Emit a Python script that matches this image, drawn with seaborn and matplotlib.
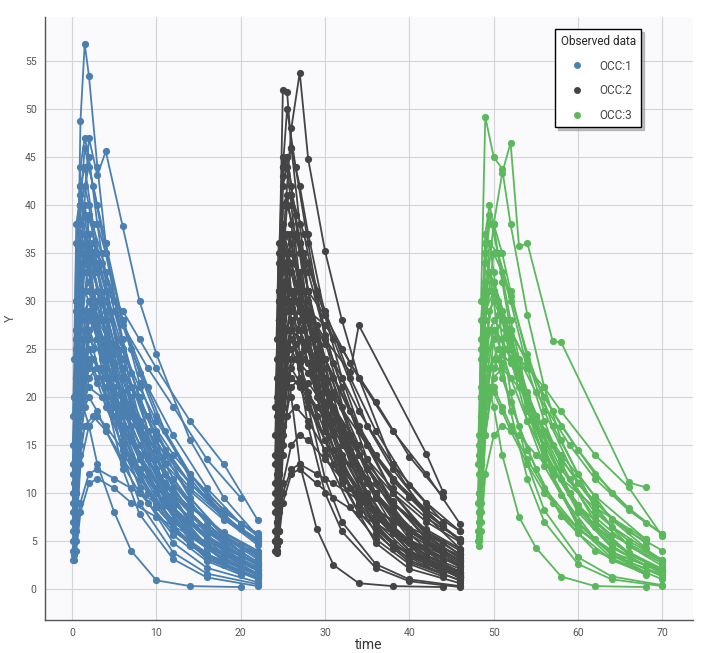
import numpy as np
import pandas as pd
import matplotlib
matplotlib.use("Agg")
import matplotlib.pyplot as plt
import seaborn as sns
from matplotlib.lines import Line2D

# Sampling schedules (hours after each dose)
sched_a = [0.25, 0.5, 1, 1.5, 2, 3, 4, 6, 8, 12, 16, 22]
sched_b = [0.5, 1, 2, 3, 4, 6, 8, 10, 14, 18, 22]
sched_c = [0.25, 1, 1.5, 2.5, 4, 6, 9, 12, 16, 20]
sched_d = [0.5, 1, 2, 3, 5, 7, 10, 14, 20]
sched_e = [0.5, 1, 2, 3, 4, 5, 6, 9, 10, 18, 20]
sched_f = [0.1, 0.5, 1, 2, 3.5, 5, 7, 11, 14, 18, 22]

occ_labels = ["OCC:1", "OCC:2", "OCC:3"]
dose_times = [0, 24, 48]
occ_colors = ["#4a7fb0", "#444444", "#5cb85c"]

# Occasion 1 - observed concentrations per subject
occ1_keys = ["A"] * 15 + ["B"] * 14 + ["C"] * 10 + ["D"] * 6 + ["F"] * 12
occ1_conc = [
    [8, 22, 48.8, 56.8, 53.5, 44, 36, 25, 17.5, 8.5, 4.2, 1.5],
    [5, 15, 30, 35, 33, 28, 24, 17, 12.5, 6.5, 3.4, 1.2],
    [12, 26, 38, 40, 37, 31, 26, 19, 14, 8, 4.6, 2.0],
    [4, 10, 19, 24, 25, 23, 21, 17, 13.5, 8.5, 5.3, 2.6],
    [15, 30, 44, 47, 45, 38, 32, 23, 16.5, 8.6, 4.5, 1.6],
    [6, 13, 22, 27, 28.5, 26, 23, 18, 14, 8.5, 5.2, 2.5],
    [3.5, 9, 16, 19, 20, 18.5, 16.5, 13, 10, 6, 3.6, 1.6],
    [20, 36, 42, 39, 35, 28, 22, 14, 9, 3.8, 1.6, 0.5],
    [10, 21, 31, 33, 32, 27, 23, 16.5, 12, 6.2, 3.2, 1.1],
    [7, 17, 27, 31, 31, 28, 25, 19.5, 15, 9, 5.5, 2.6],
    [24, 38, 41, 37, 33, 26, 20, 12.5, 7.8, 3.1, 1.2, 0.3],
    [9, 19, 29, 35, 36, 33, 29, 22, 17, 10, 6, 2.8],
    [5, 12, 20, 23, 23.5, 21.5, 19, 15, 11.5, 7, 4.3, 2.0],
    [13, 27, 35, 36, 34, 28, 23, 15.5, 10.5, 4.8, 2.2, 0.7],
    [11, 25, 40, 42, 40, 33.5, 28, 19.5, 13.5, 6.5, 3.1, 1.0],
    [14, 34, 47, 43.1, 45.6, 37.8, 30, 24.5, 15.5, 9.5, 5.5],
    [12, 26, 35, 34, 31, 25, 20, 15.5, 9.5, 5.6, 3.3],
    [8, 18, 28, 30, 29, 25, 21, 17.5, 12, 8.2, 5.5],
    [20, 33, 37, 33, 29, 22, 16.5, 12.5, 7, 3.9, 2.1],
    [16, 29, 38.5, 38, 35, 28, 22.5, 18, 11.5, 7.3, 4.6],
    [10, 20, 24, 22, 20, 16, 12.5, 10, 6, 3.6, 2.1],
    [25, 37, 39, 35, 31, 23, 17, 12.5, 6.8, 3.6, 1.9],
    [9, 16, 22, 23, 22, 19.5, 17, 14.5, 10.5, 7.5, 5.2],
    [18, 30, 32, 28, 24.5, 18, 13.5, 10, 5.5, 3, 1.6],
    [7, 15, 26, 30, 31, 29, 26, 23, 17.5, 13, 7.2],
    [22, 40, 44, 40, 36, 28, 21.5, 16.5, 9.5, 5.4, 3.1],
    [13, 22, 29, 27, 25, 20.5, 16.5, 13.5, 8.8, 5.8, 3.8],
    [6, 13, 17, 18, 17, 14.5, 12.5, 10.5, 7.5, 5.3, 3.7],
    [17, 32, 36, 31, 27, 19.5, 14, 10, 5, 2.5, 1.2],
    [9, 32, 37, 35, 30, 24, 16.5, 11.5, 6.8, 3.9],
    [4, 18, 22, 24, 22, 18.5, 13.5, 9.8, 6.2, 3.9],
    [12, 40, 46, 42, 35, 26, 16.5, 10.5, 5.6, 3.0],
    [6, 24, 28, 29, 27, 23, 18, 14, 9.8, 6.8],
    [18, 30, 29, 25, 20, 14.5, 9, 5.6, 2.9, 1.5],
    [7, 26, 34, 36, 33, 28, 21, 16, 10.5, 6.8],
    [3, 14, 17, 18, 16.5, 13.5, 10, 7.2, 4.6, 2.9],
    [20, 42, 44, 38, 31, 22, 13.5, 8.4, 4.2, 2.1],
    [10, 28, 31, 29, 25.5, 20, 14, 9.8, 5.9, 3.6],
    [5, 20, 26, 30, 30, 27.5, 23, 19, 13.5, 9.5],
    [11, 21, 25, 23, 18, 13.5, 8.5, 4.6, 1.8],
    [5, 9, 12, 12.5, 11.5, 10.5, 9, 7, 4.6],
    [12, 20, 17, 13, 8, 4, 0.9, 0.3, 0.2],
    [16, 28, 30, 26, 19, 14, 8.5, 4.5, 1.6],
    [8, 18, 27, 28, 25, 21, 16, 11, 6.2],
    [4, 8, 11, 11.5, 10.5, 9, 7.5, 5.6, 3.5],
    [4, 14, 24, 28, 26, 22.5, 18.5, 12, 8.8, 5.6, 3.5],
    [9, 22, 30, 32, 28, 23.5, 18.5, 10.5, 7, 4, 2.3],
    [6, 16, 23, 26, 24.5, 22, 19, 14, 11, 8, 5.8],
    [15, 26, 33, 34, 30, 25.5, 20, 12, 8, 4.6, 2.6],
    [3, 10, 18, 23, 23, 21, 18, 13, 10.2, 7.2, 5],
    [12, 27, 36, 35, 30, 24.5, 18, 9.5, 5.8, 2.9, 1.4],
    [7, 19, 27, 30, 28, 25, 21, 14.5, 11, 7.5, 5],
    [18, 30, 35, 33, 28, 23, 17, 9.2, 5.8, 3, 1.5],
    [5, 12, 19, 21, 20, 18, 15.5, 11, 8.5, 5.9, 4],
    [10, 24, 32, 36, 34, 30, 25, 16.5, 12, 7.6, 4.8],
    [8, 20, 26, 27, 24, 20, 15.5, 8.8, 5.5, 3, 1.6],
    [13, 29, 38, 39, 35, 29, 22.5, 13, 8.8, 5, 2.8],
]

# Occasion 2
occ2_keys = ["A"] * 14 + ["B"] * 13 + ["E"] + ["C"] * 10 + ["D"] * 6 + ["F"] * 12
occ2_conc = [
    [10, 30, 52, 51.8, 46, 38, 31, 22, 16, 8, 4, 1.1],
    [6, 16, 28, 33, 34, 30, 26, 19, 14, 7.5, 4, 1.4],
    [14, 28, 40, 41, 38, 31, 25.5, 17.5, 12, 5.8, 2.8, 0.9],
    [4, 11, 20, 25, 27, 26, 23.5, 19, 15, 9.5, 6, 3],
    [18, 34, 45, 44, 40, 32, 25, 16.5, 11, 4.8, 2.1, 0.6],
    [8, 19, 30, 34, 35, 32, 28, 21.5, 16.5, 9.7, 5.7, 2.5],
    [5, 12, 21, 24, 25, 23, 20.5, 16.5, 13, 8, 4.9, 2.3],
    [22, 35, 38, 35, 31, 24.5, 19, 11.5, 7, 2.6, 1, 0.3],
    [12, 24, 35, 37, 36, 31, 26, 18.5, 13, 6.6, 3.4, 1.2],
    [7, 16, 26, 30, 31, 29, 26, 20.5, 16, 9.8, 6, 2.9],
    [3.7, 9, 17, 21, 22, 21, 19, 15.5, 12.5, 8, 5, 2.4],
    [16, 31, 43, 45, 42, 35, 28.5, 19.5, 13.5, 6.3, 3, 0.9],
    [9, 20, 31, 33.5, 33, 29, 25, 18, 13.2, 7, 3.7, 1.3],
    [26, 36, 36, 32, 28, 22, 17, 10, 6, 2.2, 0.8, 0.2],
    [20, 36, 48, 53.8, 44.8, 35.2, 28, 22, 13, 7.6, 4.2],
    [12, 26, 34, 33, 30, 24, 19, 15, 9, 5.4, 3.2],
    [8, 18, 27, 29.5, 29, 25.5, 22, 18.5, 13, 9, 6],
    [22, 33, 36, 32, 28, 21, 15.5, 11.5, 6.2, 3.4, 1.8],
    [15, 28, 37, 36, 33, 26.5, 21, 16.5, 10, 6, 3.6],
    [10, 19, 23, 21.5, 19.5, 15.5, 12, 9.6, 5.8, 3.5, 2.1],
    [28, 40, 41, 36, 31, 23, 17, 12.5, 6.6, 3.5, 1.8],
    [9, 16, 21, 22, 21.5, 19, 16.5, 14, 10, 7, 4.9],
    [17, 29, 31, 27, 23.5, 17, 12.5, 9, 4.8, 2.6, 1.3],
    [6, 14, 24, 28, 29, 27.5, 25, 22, 16.5, 12, 6.8],
    [24, 42, 46, 42, 37, 28.5, 22, 17, 10, 5.6, 3.2],
    [13, 22, 28, 27, 25, 21, 17, 14, 9, 6, 4],
    [5, 11, 15, 16, 15.5, 13.5, 11.5, 9.8, 7, 5, 3.5],
    [12, 24, 30, 31, 29, 27.5, 26, 22.6, 27.5, 14.1, 10.1],
    [11, 34, 40, 37, 31, 24, 16, 11, 6.3, 3.6],
    [4, 17, 22, 24, 22.5, 19, 14, 10, 6.3, 4],
    [13, 44, 50, 44, 36, 26, 16, 10, 5.2, 2.7],
    [7, 25, 29, 30, 28, 24, 18.5, 14, 9.6, 6.6],
    [20, 32, 30, 25.5, 20, 14, 8.5, 5.2, 2.6, 1.3],
    [8, 27, 35, 37, 34, 29, 22, 16.5, 10.8, 7],
    [4.5, 15, 18, 19, 17.5, 14.5, 10.5, 7.6, 4.8, 3],
    [24, 44, 45, 39, 31, 21.5, 13, 8, 3.9, 1.9],
    [10, 29, 32, 30, 26, 20.5, 14.5, 10, 6, 3.7],
    [6, 21, 27, 31, 31, 28.5, 23.5, 19.5, 13.8, 9.6],
    [12, 22, 26, 23.5, 18, 13, 8, 4.2, 1.5],
    [6, 10, 12.5, 13, 12, 11, 9.3, 7.2, 4.8],
    [14, 25, 20, 13, 6.3, 2.5, 0.6, 0.3, 0.2],
    [17, 29, 31, 27, 20, 14.5, 8.7, 4.6, 1.7],
    [9, 19, 28, 29, 26, 22, 16.5, 11.5, 6.5],
    [5, 9, 12, 12.5, 11, 9.5, 7.8, 5.8, 3.6],
    [5, 15, 25, 29, 27, 23.5, 19, 12.5, 9, 5.8, 3.6],
    [10, 23, 31, 33, 29, 24.5, 19, 11, 7.3, 4.2, 2.4],
    [6, 17, 24, 27, 25.5, 23, 20, 15, 11.5, 8.3, 6],
    [16, 28, 35, 35, 31, 26, 20.5, 12.5, 8.3, 4.8, 2.7],
    [4, 11, 19, 24, 24, 22, 19, 13.5, 10.5, 7.4, 5.2],
    [13, 28, 37, 36, 31, 25, 18.5, 10, 6, 3, 1.5],
    [8, 20, 28, 31, 29, 26, 22, 15, 11.3, 7.8, 5.2],
    [19, 31, 36, 34, 29, 24, 17.5, 9.5, 6, 3.1, 1.6],
    [5, 13, 20, 22, 21, 19, 16.5, 11.5, 9, 6.2, 4.2],
    [11, 25, 34, 37, 35, 31, 26, 17, 12.5, 8, 5],
    [9, 21, 27, 28, 25, 21, 16, 9.2, 5.8, 3.2, 1.7],
    [14, 30, 40, 41, 37, 30.5, 23.5, 13.5, 9.2, 5.2, 2.9],
]

# Occasion 3
occ3_keys = ["A"] * 10 + ["B"] * 7 + ["C"] * 6 + ["D"] * 4 + ["E"] + ["F"] * 4
occ3_conc = [
    [7, 20, 37, 40, 38, 32, 27, 19, 13.5, 6.5, 3.2, 1],
    [5.2, 14, 25, 29, 30, 28, 25, 19.5, 15, 8.5, 4.8, 2],
    [12, 26, 36, 36, 33, 26, 20.5, 13, 8.2, 3.3, 1.3, 0.4],
    [6, 15, 24, 27, 27, 24.5, 22, 17.5, 14, 8.7, 5.6, 2.9],
    [15, 28, 35, 33, 30, 23.5, 18.5, 11.5, 7, 2.6, 1, 0.3],
    [9, 20, 30, 33, 32, 28, 24, 17.5, 12.8, 6.8, 3.6, 1.3],
    [10, 24, 34, 38, 38, 35, 31, 24, 18.5, 11, 6.5, 3],
    [5.5, 13, 19, 21, 21, 19, 17, 13.5, 10.5, 6.3, 3.8, 1.8],
    [8, 18, 28, 31, 31, 28, 25, 19, 14.5, 8, 4.3, 1.6],
    [4.5, 11, 18, 20, 20.5, 18.5, 16.5, 13, 10, 6.2, 3.8, 1.9],
    [30, 49.2, 45, 43.8, 38, 28.5, 21, 15.5, 8.4, 4.5, 2.4],
    [13, 25, 31, 29, 26, 20.5, 16, 12.5, 7.5, 4.5, 2.7],
    [9, 18, 26, 28, 27, 23.5, 20, 17, 12, 8.4, 5.7],
    [20, 30, 32, 29, 25, 18.5, 13.5, 9.8, 5.2, 2.8, 1.5],
    [11, 21, 27, 26, 24, 20, 16.5, 13.5, 9, 6, 4],
    [7, 16, 23, 25, 25, 23, 21, 18.5, 14, 10.6, 5.5],
    [16, 28, 35, 33, 30, 23, 17.5, 13, 7, 3.7, 1.9],
    [8, 30, 36, 35, 30.5, 24.5, 17, 12, 7.2, 4.3],
    [5, 18, 23, 25, 23.5, 20, 15, 11, 7.3, 4.8],
    [14, 35, 39, 35, 28, 20, 11.8, 7, 3.5, 1.8],
    [6, 22, 27, 28.5, 27, 23.5, 18.5, 14.5, 10, 6.9],
    [16, 27, 27, 24, 19.5, 14.5, 9, 5.8, 3, 1.6],
    [10, 31, 33, 30, 25, 19, 12.5, 8.3, 4.5, 2.4],
    [11, 20, 24, 22, 17, 12.5, 7.6, 4, 1.5],
    [13, 22, 19, 14, 7.5, 4.3, 1.3, 0.3, 0.2],
    [8, 16, 22, 23, 21, 18, 14, 9.7, 5.2],
    [6, 12, 16, 17, 16, 14, 11.5, 8.5, 5.2],
    [18, 30, 38, 43.3, 46.5, 35.7, 36, 25.8, 25.7, 11.1, 10.6],
    [5, 14, 23, 27, 25, 22, 18, 11.5, 8, 5, 3],
    [9, 21, 29, 31, 27, 22.5, 17.5, 10, 6.6, 3.8, 2.1],
    [6, 17, 25, 28, 26.5, 24, 20.5, 15, 11.5, 8.2, 5.7],
    [13, 25, 32, 32, 28, 23, 17.5, 10, 6.5, 3.6, 2],
]

schedules = {"A": sched_a, "B": sched_b, "C": sched_c, "D": sched_d,
             "E": sched_e, "F": sched_f}

rows = []
for occ, dose, keys, conc in zip(occ_labels, dose_times,
                                 [occ1_keys, occ2_keys, occ3_keys],
                                 [occ1_conc, occ2_conc, occ3_conc]):
    for i, (k, vals) in enumerate(zip(keys, conc)):
        for t, v in zip(schedules[k], vals):
            rows.append({"time": dose + t, "Y": v, "id": f"{occ}-{i}", "occ": occ})
df = pd.DataFrame(rows)

sns.set_style("white")
plt.rcParams["font.family"] = ["Roboto", "DejaVu Sans"]

fig = plt.figure(figsize=(7.04, 6.53), dpi=100)
ax = fig.add_axes([0.064, 0.051, 0.92, 0.923])
ax.set_facecolor("#fafafd")

sns.lineplot(data=df, x="time", y="Y", hue="occ", units="id", estimator=None,
             palette=occ_colors, hue_order=occ_labels, marker="o", markersize=5.2,
             markeredgewidth=0, linewidth=1.3, sort=False, legend=False, ax=ax)

ax.set_xlim(-3.2, 73.6)
ax.set_ylim(-3.2, 59.6)
ax.set_xticks(range(0, 71, 10))
ax.set_yticks(range(0, 56, 5))
ax.grid(True, color="#d4d4d8", linewidth=0.8)
ax.set_axisbelow(True)
for s in ["top", "right"]:
    ax.spines[s].set_visible(False)
for s in ["left", "bottom"]:
    ax.spines[s].set_color("#555555")
    ax.spines[s].set_linewidth(1.0)
ax.tick_params(axis="both", direction="out", length=4, width=0.8, color="#555555",
               labelsize=7.5, labelcolor="#555555", pad=2)
ax.set_xlabel("time", fontsize=10, color="#333333", labelpad=0)
ax.set_ylabel("Y", fontsize=9, color="#555555", labelpad=6)

handles = [Line2D([0], [0], marker="o", linestyle="", markersize=5,
                  markerfacecolor=c, markeredgewidth=0) for c in occ_colors]
leg = ax.legend(handles, occ_labels, title="Observed data", loc="upper left",
                bbox_to_anchor=(0.789, 0.955), bbox_transform=fig.transFigure,
                frameon=True, fancybox=False, edgecolor="black", fontsize=8.5,
                title_fontsize=8.5, handletextpad=0.9, labelspacing=1.0,
                borderpad=0.45, borderaxespad=0, shadow={"color": "0.55", "alpha": 0.5})
leg.get_frame().set_linewidth(1.0)
for txt in leg.get_texts():
    txt.set_color("#444444")

fig.savefig("out.png", dpi=100)
